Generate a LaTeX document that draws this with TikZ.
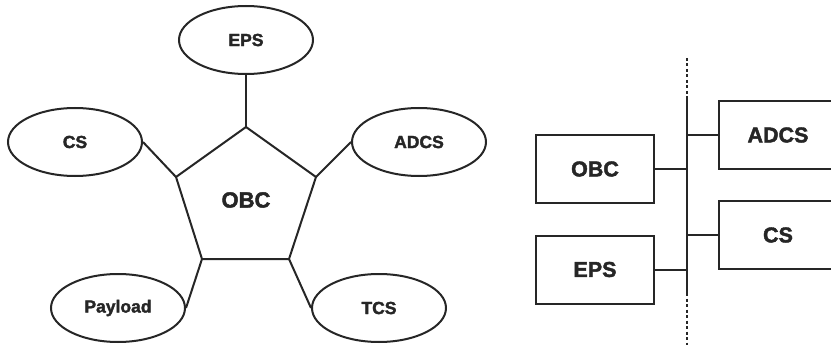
\documentclass[tikz,border=0pt]{standalone}
\usepackage{fontspec}
\setmainfont[BoldFeatures={FakeBold=2}]{Liberation Sans}
\usetikzlibrary{shapes.geometric}
\begin{document}
\begin{tikzpicture}[x=1pt,y=-1pt,
  line width=2pt, draw=black!85,
  ell/.style={ellipse, draw, minimum width=134pt, minimum height=68pt, inner sep=0pt, text=black!85, font=\bfseries\fontsize{17.5}{19}\selectfont},
  boxn/.style={draw, minimum width=118pt, minimum height=68pt, inner sep=0pt, text=black!85, font=\bfseries\fontsize{21.5}{23}\selectfont}]
\useasboundingbox (0,0) rectangle (831,345);
\clip (0,0) rectangle (831,345);
% left: star
\coordinate (pT) at (246,127);
\coordinate (pUL) at (176,177);
\coordinate (pUR) at (316,177);
\coordinate (pLL) at (202,259);
\coordinate (pLR) at (289,259);
\draw (pT) -- (pUR) -- (pLR) -- (pLL) -- (pUL) -- cycle;
\node[text=black!85, font=\bfseries\fontsize{22}{24}\selectfont] (obc) at (246,200) {OBC};
\node[ell] (eps) at (246,40) {EPS};
\node[ell] (cs) at (75,142) {CS};
\node[ell] (adcs) at (419,142) {ADCS};
\node[ell] (pay) at (118,308) {Payload};
\node[ell] (tcs) at (379,308) {TCS};
\draw (eps.south) -- (pT);
\draw (cs.east) -- (pUL);
\draw (adcs.west) -- (pUR);
\draw (pay.east) -- (pLL);
\draw (tcs.west) -- (pLR);
% right: bus
\coordinate (b0) at (687,58);
\coordinate (b1) at (687,97);
\coordinate (b2) at (687,293);
\coordinate (b3) at (687,345);
\draw[dash pattern=on 3pt off 2.5pt] (b0) -- (b1);
\draw (b1) -- (b2);
\draw[dash pattern=on 3pt off 2.5pt] (b2) -- (b3);
\node[boxn] (obc2) at (595,169) {OBC};
\node[boxn] (eps2) at (595,269.5) {EPS};
\node[boxn] (adcs2) at (778,135) {ADCS};
\node[boxn] (cs2) at (778,235) {CS};
\draw (obc2.east) -- (obc2.east -| b1);
\draw (eps2.east) -- (eps2.east -| b1);
\draw (adcs2.west) -- (adcs2.west -| b1);
\draw (cs2.west) -- (cs2.west -| b1);
\end{tikzpicture}
\end{document}
